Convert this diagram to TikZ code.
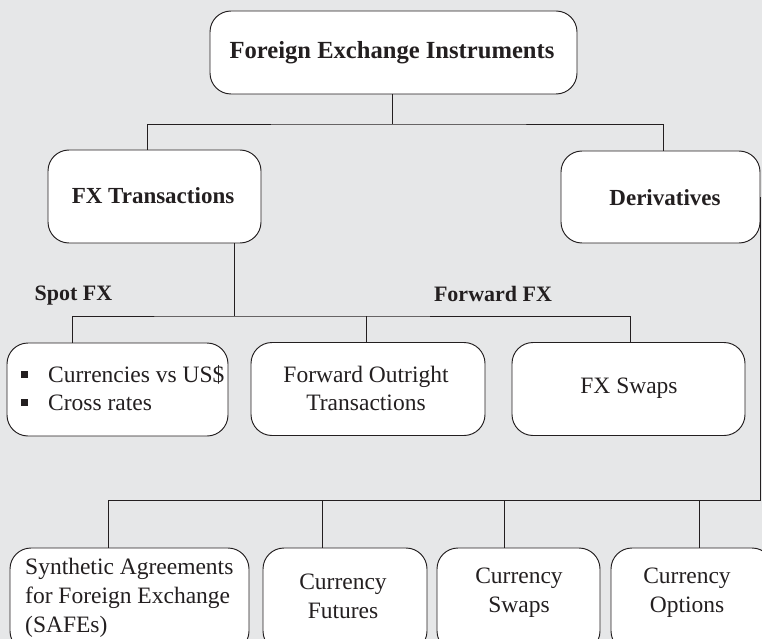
\documentclass[tikz,border=0pt]{standalone}
\usepackage{fontspec}
\setmainfont{Liberation Serif}
\definecolor{panel}{HTML}{E6E7E8}
\definecolor{ink}{HTML}{231F20}
\begin{document}
\begin{tikzpicture}[x=1pt,y=-1pt,
  box/.style={draw=ink, fill=white, line width=0.95pt, rounded corners=21pt, inner sep=0pt},
  conn/.style={draw=ink, line width=0.95pt},
  title/.style={font=\fontsize{24.6}{28}\selectfont\bfseries, text=ink, inner sep=0pt, anchor=base},
  head/.style={font=\fontsize{23}{28}\selectfont\bfseries, text=ink, inner sep=0pt, anchor=base},
  lab/.style={font=\fontsize{22}{26}\selectfont\bfseries, text=ink, inner sep=0pt, anchor=base},
  txt/.style={font=\fontsize{23.5}{29}\selectfont, text=ink, align=center, inner sep=0pt, anchor=base},
  bul/.style={font=\fontsize{23.5}{28}\selectfont, text=ink, align=left, inner sep=0pt, anchor=base west}]
% canvas
\fill[panel] (0,0) rectangle (762,639);
\clip (0,0) rectangle (762,639);

% top level
\node[box, minimum width=367pt, minimum height=83pt] (top) at (393.5,52.5) {};
\node[title] (topT) at (392,59) {Foreign Exchange Instruments};

% second level
\node[box, minimum width=213pt, minimum height=93pt] (fxt) at (154.5,196.5) {};
\node[head] (fxtT) at (153,204) {FX Transactions};
\node[box, minimum width=199pt, minimum height=92pt] (der) at (660.5,197) {};
\node[head] (derT) at (665,205) {Derivatives};

% group labels
\node[lab] (spotL) at (73.5,300) {Spot FX};
\node[lab] (fwdL) at (493,301) {Forward FX};

% FX transaction types (multi-line texts are placed by their last baseline)
\node[box, minimum width=221pt, minimum height=93pt] (spot) at (117.5,389.5) {};
\node[bul] (spotT) at (21,410)
  {\raisebox{4pt}{\rule{7pt}{7pt}}\hspace{20pt}Currencies vs US\$\\\raisebox{4pt}{\rule{7pt}{7pt}}\hspace{20pt}Cross rates};
\node[box, minimum width=234pt, minimum height=93pt] (fwd) at (368,389) {};
\node[txt, font=\fontsize{23.5}{28}\selectfont] (fwdT) at (366,410) {Forward Outright\\Transactions};
\node[box, minimum width=233pt, minimum height=93pt] (swap) at (628.5,389) {};
\node[txt] (swapT) at (629,393) {FX Swaps};

% derivative types
\node[box, minimum width=239pt, minimum height=104pt] (safe) at (129.5,600) {};
\node[txt, align=left, anchor=base west] (safeT) at (25,632)
  {Synthetic Agreements\\for Foreign Exchange\\(SAFEs)};
\node[box, minimum width=164pt, minimum height=104pt] (fut) at (345,600) {};
\node[txt] (futT) at (343,618) {Currency\\Futures};
\node[box, minimum width=163pt, minimum height=104pt] (cswap) at (518.5,600) {};
\node[txt] (cswapT) at (519,612) {Currency\\Swaps};
\node[box, minimum width=162pt, minimum height=104pt] (opt) at (692,600) {};
\node[txt] (optT) at (687,612) {Currency\\Options};

% connectors: top level
\coordinate (j1) at (392,124);
\draw[conn] (top.south -| j1) -- (j1);
\draw[conn] ([xshift=-7.5pt]fxt.north) |- (j1) -| ([xshift=2.5pt]der.north);

% connectors: FX transactions
\coordinate (j2) at (234,316);
\draw[conn] (fxt.south -| j2) -- (j2);
\draw[conn] ([xshift=-45.5pt]spot.north) |- (j2) -| ([xshift=1.5pt]swap.north);
\draw[conn] ([xshift=-2pt]fwd.north) -- ([xshift=-2pt]fwd.north |- j2);

% connectors: derivatives
\coordinate (j3) at (760.5,500);
\draw[conn] (der.east -| j3) -- (j3);
\draw[conn] ([xshift=-21.5pt]safe.north) |- (j3);
\draw[conn] ([xshift=-23pt]fut.north) -- ([xshift=-23pt]fut.north |- j3);
\draw[conn] ([xshift=-14.5pt]cswap.north) -- ([xshift=-14.5pt]cswap.north |- j3);
\draw[conn] ([xshift=7pt]opt.north) -- ([xshift=7pt]opt.north |- j3);
\end{tikzpicture}
\end{document}
